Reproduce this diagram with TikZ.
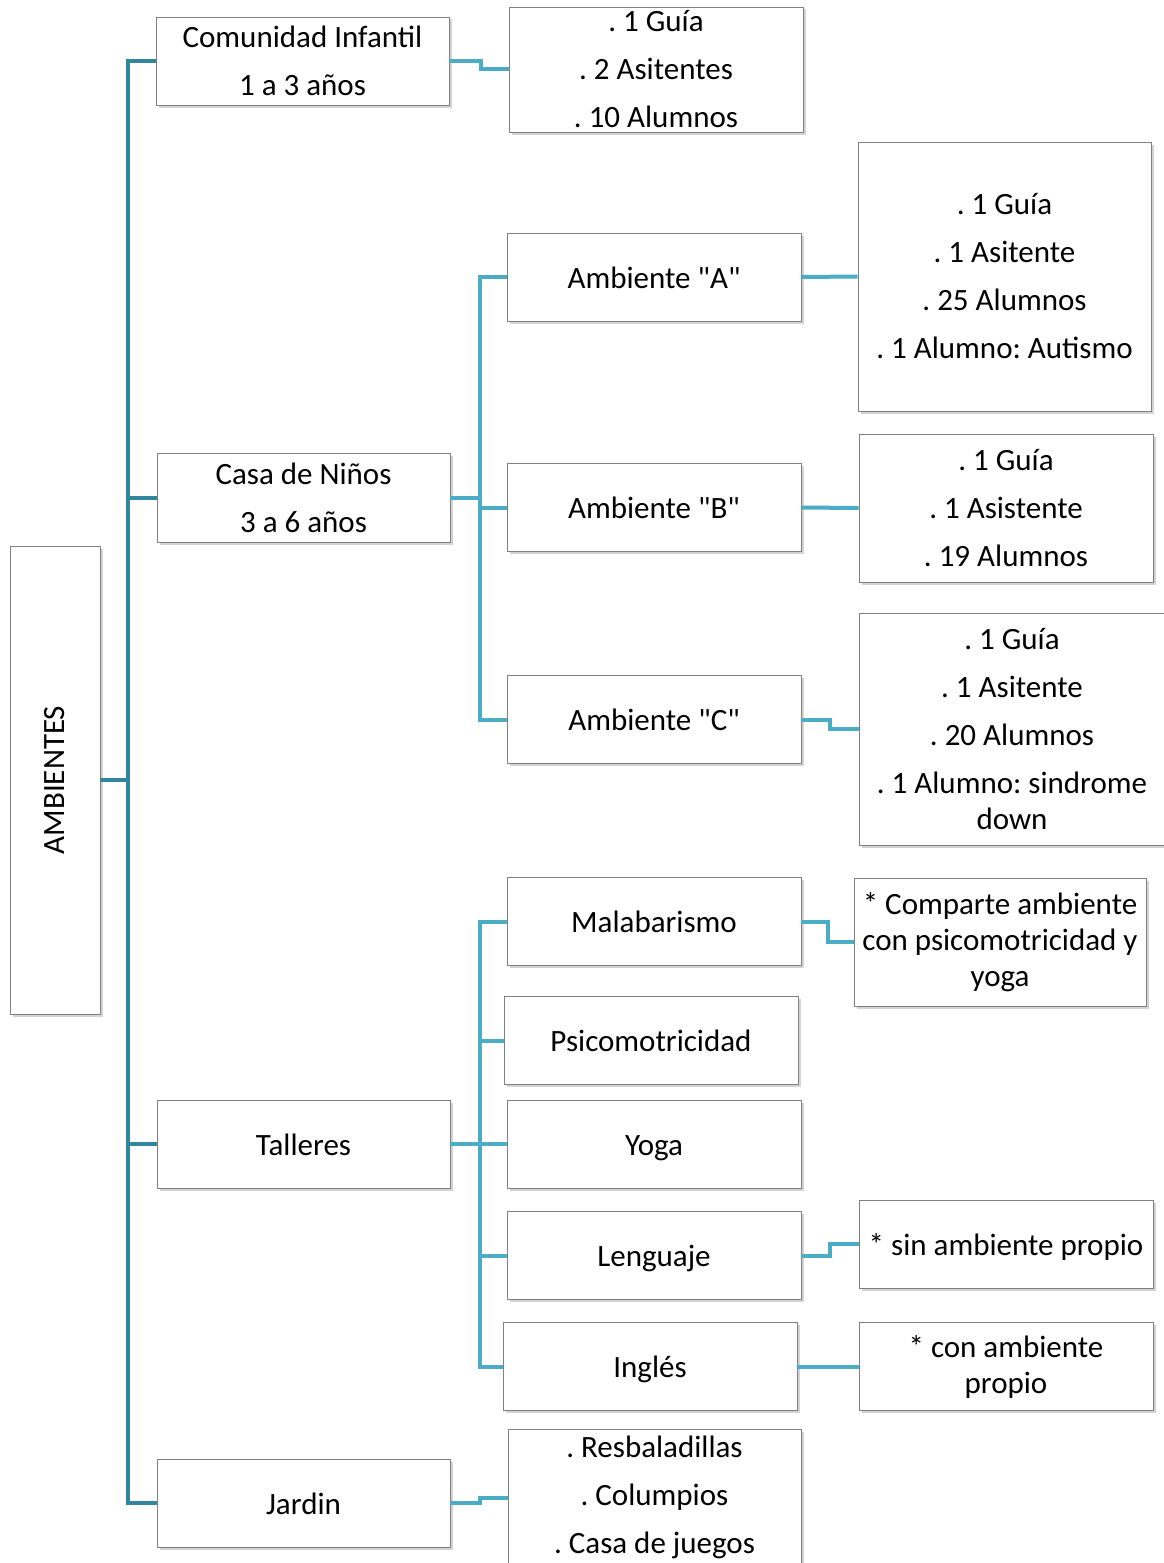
\documentclass[tikz,border=0pt]{standalone}
\usepackage{fontspec}
\setmainfont{Carlito}[Ligatures=TeXOff]
\usepackage{tikz}
\usetikzlibrary{calc,positioning,shadows}

\definecolor{trunkblue}{HTML}{31859C}
\definecolor{linkblue}{HTML}{4BACC6}

\begin{document}
\frenchspacing
\begin{tikzpicture}[x=1pt,y=-1pt,
	box/.style={draw=black!50,fill=white,line width=0.8pt,inner sep=0pt,align=center,
		minimum width=294pt,minimum height=88pt,
		drop shadow={opacity=0.35,shadow xshift=2.5pt,shadow yshift=-2.5pt},
		font=\fontsize{31}{48}\selectfont},
	oneline/.style={box,text height=22pt,text depth=0pt},
	trunk/.style={draw=trunkblue,line width=4pt},
	link/.style={draw=linkblue,line width=4pt}]
		\useasboundingbox (0,0) rectangle (1163,1563);
		% main column
		\node[box,minimum width=90pt,minimum height=468pt] (amb) at (55,780) {\rotatebox{90}{AMBIENTES}};
		\node[box,minimum width=293pt] (ci) at (302.5,61) {Comunidad Infantil\\1 a 3 años};
		\node[box,minimum width=293pt,minimum height=89pt] (casa) at (303.5,497.5) {Casa de Niños\\3 a 6 años};
		\node[oneline,minimum width=293pt] (talleres) at (303.5,1144) {Talleres};
		\node[oneline,minimum width=293pt] (jardin) at (303.5,1503) {Jardin};
		% second column
		\node[box,minimum height=125pt] (ciinfo) at (656,69.5) {. 1 Guía\\. 2 Asitentes\\. 10 Alumnos};
		\node[oneline] (ambA) at (654,277) {Ambiente "A"};
		\node[oneline] (ambB) at (654,507.5) {Ambiente "B"};
		\node[oneline] (ambC) at (654,719.5) {Ambiente "C"};
		\node[oneline] (malab) at (654,921.5) {Malabarismo};
		\node[oneline] (psico) at (651,1040.5) {Psicomotricidad};
		\node[oneline] (yoga) at (654,1144) {Yoga};
		\node[oneline] (leng) at (654,1255.5) {Lenguaje};
		\node[oneline] (ingles) at (650,1366.5) {Inglés};
		\node[box,minimum width=293pt,minimum height=137pt] (jinfo) at (654.5,1497.5) {. Resbaladillas\\. Columpios\\. Casa de juegos};
		% third column
		\node[box,minimum width=293pt,minimum height=269pt] (ainfo) at (1004.5,276.5) {. 1 Guía\\. 1 Asitente\\. 25 Alumnos\\. 1 Alumno: Autismo};
		\node[box,minimum height=148pt] (binfo) at (1006,508) {. 1 Guía\\. 1 Asistente\\. 19 Alumnos};
		\node[box,minimum width=306pt,minimum height=232pt] (cinfo) at (1012,729) {. 1 Guía\\. 1 Asitente\\. 20 Alumnos\\. 1 Alumno: sindrome\\[-12pt]down};
		\node[box,minimum width=292pt,minimum height=128pt] (mnote) at (1000,942) {* Comparte ambiente\\[-12pt]con psicomotricidad y\\[-12pt]yoga};
		\node[oneline] (lnote) at (1006,1244) {* sin ambiente propio};
		\node[box] (inote) at (1006,1366.5) {* con ambiente\\[-12pt]propio};
		% connectors
		\draw[trunk] (ci.west) -- ++(-28,0) |- (jardin.west);
		\draw[trunk] (amb.east) -- ++(28,0);
		\draw[trunk] (casa.west) -- ++(-29,0);
		\draw[trunk] (talleres.west) -- ++(-29,0);
		\draw[link] (ci.east) -- ++(32,0) |- (ciinfo.west);
		\draw[link] (casa.east) -- ++(30,0);
		\draw[link] (ambA.west) -- ++(-27,0) |- (ambC.west);
		\draw[link] (ambB.west) -- ++(-27,0);
		\draw[link] (ambA.east) -- (ainfo.west);
		\draw[link] (ambB.east) -- (binfo.west);
		\draw[link] (ambC.east) -- ++(29,0) |- (cinfo.west);
		\draw[link] (talleres.east) -- ++(30,0);
		\draw[link] (malab.west) -- ++(-27,0) |- (ingles.west);
		\draw[link] (psico.west) -- ++(-24,0);
		\draw[link] (yoga.west) -- ++(-27,0);
		\draw[link] (leng.west) -- ++(-27,0);
		\draw[link] (malab.east) -- ++(27,0) |- (mnote.west);
		\draw[link] (leng.east) -- ++(29,0) |- (lnote.west);
		\draw[link] (ingles.east) -- (inote.west);
		\draw[link] (jardin.east) -- ++(30,0) |- (jinfo.west);
\end{tikzpicture}
\end{document}
